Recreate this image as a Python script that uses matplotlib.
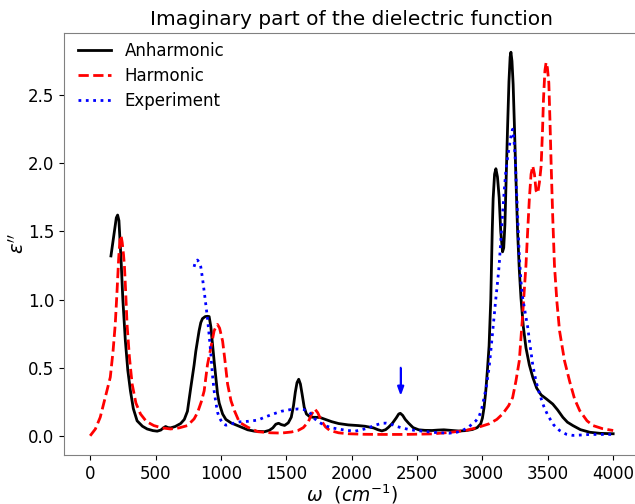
"""
Imaginary part of the dielectric function: anharmonic vs harmonic vs experiment.
Saves out.png (635x504).
"""

import matplotlib
matplotlib.use("Agg")
import matplotlib.pyplot as plt

# ── data (omega in cm^-1, eps'') ─────────────────────────────
anh_w = [159, 185, 200, 210, 220, 236, 250, 269, 288, 308, 330, 359, 400, 436, 480,
         513, 540, 560, 577, 595, 615, 650, 692, 720, 744, 769, 795, 808, 833, 846,
         859, 880, 897, 910, 923, 935, 948, 962, 974, 987, 1013, 1038, 1077, 1128,
         1205, 1256, 1333, 1370, 1397, 1420, 1441, 1462, 1487, 1515, 1538, 1555,
         1569, 1582, 1595, 1608, 1621, 1637, 1654, 1680, 1705, 1756, 1800, 1846,
         1900, 1974, 2050, 2103, 2167, 2200, 2231, 2260, 2282, 2310, 2340, 2360,
         2372, 2390, 2410, 2436, 2470, 2513, 2560, 2615, 2660, 2705, 2760, 2821,
         2870, 2923, 2960, 2987, 3000, 3013, 3025, 3038, 3051, 3064, 3075, 3082,
         3093, 3103, 3115, 3128, 3140, 3154, 3163, 3172, 3182, 3192, 3203, 3212,
         3218, 3226, 3235, 3244, 3256, 3269, 3282, 3295, 3313, 3333, 3359, 3385,
         3415, 3449, 3490, 3538, 3575, 3615, 3650, 3692, 3750, 3821, 3900, 4000]
anh_e = [1.32, 1.50, 1.60, 1.62, 1.58, 1.30, 1.00, 0.70, 0.48, 0.33, 0.20, 0.11, 0.07,
         0.05, 0.038, 0.034, 0.042, 0.058, 0.068, 0.060, 0.058, 0.068, 0.09, 0.12,
         0.18, 0.35, 0.52, 0.62, 0.77, 0.83, 0.86, 0.875, 0.877, 0.875, 0.80, 0.68,
         0.55, 0.42, 0.31, 0.24, 0.16, 0.12, 0.095, 0.075, 0.044, 0.034, 0.030,
         0.040, 0.058, 0.085, 0.092, 0.082, 0.076, 0.095, 0.136, 0.22, 0.32, 0.39,
         0.415, 0.38, 0.306, 0.21, 0.16, 0.14, 0.136, 0.135, 0.12, 0.104, 0.09,
         0.08, 0.075, 0.07, 0.058, 0.045, 0.036, 0.045, 0.063, 0.09, 0.13, 0.16,
         0.165, 0.15, 0.12, 0.092, 0.06, 0.044, 0.04, 0.039, 0.042, 0.044, 0.04,
         0.035, 0.038, 0.046, 0.06, 0.088, 0.13, 0.21, 0.32, 0.48, 0.66, 1.0, 1.5,
         1.74, 1.92, 1.96, 1.90, 1.75, 1.50, 1.35, 1.38, 1.55, 1.90, 2.25, 2.60,
         2.78, 2.815, 2.75, 2.58, 2.30, 1.90, 1.50, 1.22, 1.01, 0.80, 0.646, 0.52,
         0.43, 0.35, 0.30, 0.27, 0.233, 0.19, 0.136, 0.10, 0.075, 0.045, 0.026,
         0.018, 0.015]

har_w = [0, 40, 77, 115, 154, 175, 192, 205, 218, 228, 236, 245, 255, 262, 272, 282,
         300, 321, 350, 385, 430, 487, 550, 615, 680, 744, 795, 821, 850, 872, 897,
         923, 948, 962, 974, 990, 1013, 1030, 1051, 1077, 1103, 1141, 1205, 1282,
         1380, 1462, 1540, 1590, 1630, 1667, 1695, 1718, 1740, 1769, 1800, 1833,
         1900, 1974, 2100, 2231, 2400, 2615, 2750, 2872, 2960, 3051, 3110, 3154,
         3200, 3231, 3256, 3282, 3308, 3321, 3333, 3346, 3359, 3372, 3385, 3398,
         3410, 3423, 3436, 3449, 3460, 3467, 3478, 3487, 3497, 3508, 3517, 3526,
         3538, 3551, 3570, 3590, 3628, 3667, 3705, 3744, 3800, 3846, 3920, 4000]
har_e = [0.0, 0.05, 0.136, 0.28, 0.43, 0.62, 0.82, 1.05, 1.30, 1.44, 1.47, 1.42, 1.33,
         1.25, 1.05, 0.82, 0.58, 0.38, 0.24, 0.16, 0.105, 0.075, 0.058, 0.05, 0.058,
         0.075, 0.124, 0.17, 0.25, 0.33, 0.52, 0.646, 0.77, 0.80, 0.817, 0.79, 0.695,
         0.56, 0.38, 0.257, 0.185, 0.10, 0.063, 0.03, 0.022, 0.02, 0.028, 0.039,
         0.06, 0.10, 0.16, 0.197, 0.17, 0.11, 0.065, 0.039, 0.022, 0.015, 0.011,
         0.01, 0.01, 0.014, 0.025, 0.039, 0.06, 0.088, 0.12, 0.16, 0.22, 0.28, 0.40,
         0.55, 0.89, 1.08, 1.25, 1.50, 1.74, 1.92, 1.98, 1.92, 1.80, 1.78, 1.86,
         1.98, 2.25, 2.47, 2.68, 2.74, 2.70, 2.59, 2.30, 1.98, 1.60, 1.25, 0.98,
         0.77, 0.55, 0.40, 0.27, 0.185, 0.11, 0.075, 0.052, 0.039]

exp_w = [795, 805, 821, 835, 846, 860, 872, 885, 897, 910, 923, 935, 948, 962, 975,
         987, 1013, 1038, 1077, 1103, 1140, 1205, 1282, 1333, 1400, 1462, 1530, 1590,
         1630, 1654, 1690, 1718, 1750, 1795, 1850, 1897, 1960, 2026, 2080, 2128,
         2180, 2231, 2265, 2295, 2340, 2385, 2430, 2487, 2550, 2615, 2680, 2744,
         2800, 2846, 2890, 2923, 2950, 2974, 2995, 3013, 3030, 3051, 3064, 3077,
         3090, 3103, 3116, 3128, 3141, 3154, 3167, 3179, 3195, 3210, 3222, 3231,
         3241, 3251, 3260, 3269, 3282, 3295, 3308, 3321, 3333, 3346, 3365, 3385,
         3410, 3436, 3468, 3500, 3545, 3590, 3640, 3692, 3760, 3821, 3900, 4000]
exp_e = [1.24, 1.28, 1.29, 1.27, 1.24, 1.15, 1.06, 0.96, 0.865, 0.74, 0.60, 0.45, 0.33,
         0.24, 0.17, 0.136, 0.09, 0.078, 0.085, 0.095, 0.102, 0.106, 0.115, 0.136,
         0.16, 0.18, 0.192, 0.197, 0.193, 0.185, 0.16, 0.124, 0.10, 0.075, 0.058,
         0.05, 0.04, 0.034, 0.045, 0.058, 0.078, 0.092, 0.093, 0.088, 0.07, 0.058,
         0.048, 0.039, 0.033, 0.026, 0.022, 0.019, 0.025, 0.039, 0.06, 0.088, 0.11,
         0.14, 0.20, 0.28, 0.36, 0.50, 0.62, 0.75, 0.88, 1.01, 1.13, 1.25, 1.44,
         1.62, 1.80, 1.94, 2.06, 2.15, 2.22, 2.25, 2.18, 2.03, 1.82, 1.62, 1.32,
         1.13, 1.01, 0.94, 0.87, 0.80, 0.66, 0.52, 0.40, 0.31, 0.22, 0.15, 0.08,
         0.039, 0.012, 0.003, 0.006, 0.01, 0.01, 0.01]

# marked feature (blue arrow)
arrow_w = 2375
arrow_top = 0.5


def main():
    fig = plt.figure(figsize=(6.35, 5.04), dpi=100, facecolor="white")
    # right edge of the frame falls just outside the canvas, as in the reference
    ax = fig.add_axes([0.1008, 0.0972, 0.906, 0.8373])

    ax.plot(anh_w, anh_e, color="black", lw=2, label="Anharmonic")
    ax.plot(har_w, har_e, color="red", lw=2, ls="--", label="Harmonic")
    ax.plot(exp_w, exp_e, color="blue", lw=2, ls=":", label="Experiment")

    ax.arrow(arrow_w, arrow_top, 0, -0.19, head_width=45, head_length=0.06,
             length_includes_head=True, color="blue", lw=1.2)

    ax.set_xlim(-200, 4200)
    ax.set_ylim(-0.141, 2.956)
    ax.set_xticks(range(0, 4001, 500))
    ax.set_yticks([0.0, 0.5, 1.0, 1.5, 2.0, 2.5])
    ax.tick_params(labelsize=12)
    for s in ax.spines.values():
        s.set_color("#808080")
    ax.spines["right"].set_visible(False)

    ax.set_title("Imaginary part of the dielectric function", fontsize=14.5)
    ax.set_xlabel(r"$\omega\ \ (cm^{-1})$", fontsize=13.5)
    ax.xaxis.set_label_coords(0.5, -0.064)
    ax.set_ylabel(r"$\epsilon''$", fontsize=14, labelpad=0)
    ax.legend(loc="upper left", bbox_to_anchor=(-0.002, 1.015), frameon=False,
              fontsize=12, labelspacing=0.42)

    fig.savefig("out.png", dpi=100, facecolor=fig.get_facecolor())
    plt.close(fig)


if __name__ == "__main__":
    main()
